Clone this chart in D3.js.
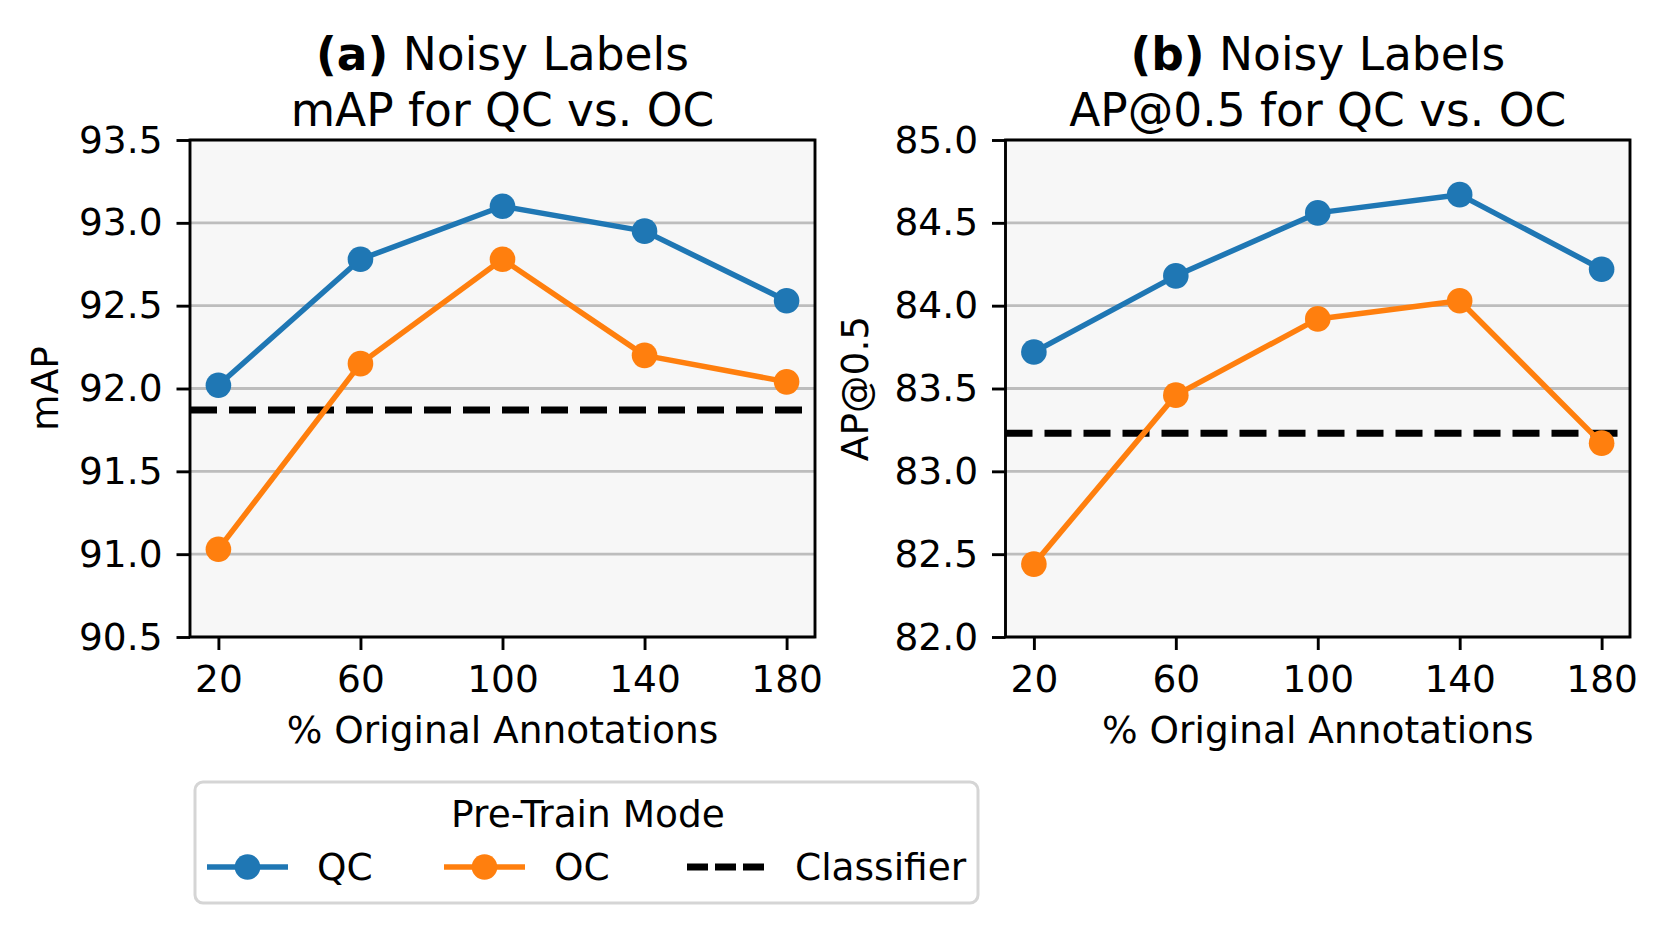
<!DOCTYPE html>
<html>
<head>
<meta charset="utf-8">
<script src="https://cdn.jsdelivr.net/npm/d3@7"></script>
<style>
  body { margin: 0; background: #fff; }
  text { font-family: "DejaVu Sans", sans-serif; fill: #000; }
</style>
</head>
<body>
<svg id="chart" width="1662" height="931"></svg>
<script>
// data
var percents = [20, 60, 100, 140, 180];
var xTickValues = [20, 60, 100, 140, 180];

var mapQC = [92.02, 92.78, 93.10, 92.95, 92.53];
var mapOC = [91.03, 92.15, 92.78, 92.20, 92.04];
var mapClassifier = 91.87;
var mapTicks = [90.5, 91.0, 91.5, 92.0, 92.5, 93.0, 93.5];

var apQC = [83.72, 84.18, 84.56, 84.67, 84.22];
var apOC = [82.44, 83.46, 83.92, 84.03, 83.17];
var apClassifier = 83.23;
var apTicks = [82.0, 82.5, 83.0, 83.5, 84.0, 84.5, 85.0];

var seriesNames = ["QC", "OC", "Classifier"];
var colorQC = "#1f77b4";
var colorOC = "#ff7f0e";

var panels = [
  {tag: "(a)", title2: "mAP for QC vs. OC", ylabel: "mAP", qc: mapQC, oc: mapOC,
   base: mapClassifier, ticks: mapTicks, left: 190, right: 815, ylabelX: 58},
  {tag: "(b)", title2: "AP@0.5 for QC vs. OC", ylabel: "AP@0.5", qc: apQC, oc: apOC,
   base: apClassifier, ticks: apTicks, left: 1005.5, right: 1630, ylabelX: 868}
];

var plotTop = 140, plotBottom = 637;
var tickFont = 37.5, titleFont = 45.5;
var lineW = 5.5, markerR = 12.8;

var svg = d3.select("#chart");

panels.forEach(function (p) {
  var xscale = d3.scaleLinear().domain([12, 188]).range([p.left, p.right]);
  var yscale = d3.scaleLinear().domain([p.ticks[0], p.ticks[p.ticks.length - 1]]).range([plotBottom, plotTop]);

  var g = svg.append("g");

  // background
  g.append("rect")
    .attr("x", p.left).attr("y", plotTop)
    .attr("width", p.right - p.left).attr("height", plotBottom - plotTop)
    .attr("fill", "#f7f7f7");

  // horizontal grid
  g.selectAll("line.grid").data(p.ticks).enter().append("line")
    .attr("class", "grid")
    .attr("x1", p.left).attr("x2", p.right)
    .attr("y1", function (d) { return yscale(d); })
    .attr("y2", function (d) { return yscale(d); })
    .attr("stroke", "#bdbdbd").attr("stroke-width", 2.9);

  // classifier baseline
  g.append("line")
    .attr("x1", p.left).attr("x2", p.right)
    .attr("y1", yscale(p.base)).attr("y2", yscale(p.base))
    .attr("stroke", "#000").attr("stroke-width", 7)
    .attr("stroke-dasharray", "27,12");

  var line = d3.line()
    .x(function (d, i) { return xscale(percents[i]); })
    .y(function (d) { return yscale(d); });

  [[p.qc, colorQC], [p.oc, colorOC]].forEach(function (s) {
    g.append("path")
      .attr("d", line(s[0]))
      .attr("fill", "none")
      .attr("stroke", s[1])
      .attr("stroke-width", lineW)
      .attr("stroke-linejoin", "round");
    g.selectAll(null).data(s[0]).enter().append("circle")
      .attr("cx", function (d, i) { return xscale(percents[i]); })
      .attr("cy", function (d) { return yscale(d); })
      .attr("r", markerR)
      .attr("fill", s[1]);
  });

  // axes
  var yaxis = d3.axisLeft(yscale).tickValues(p.ticks)
    .tickFormat(d3.format(".1f")).tickSize(13.5).tickSizeOuter(0).tickPadding(14);
  var ag = g.append("g").attr("transform", "translate(" + p.left + ",0)").call(yaxis);
  ag.select(".domain").remove();
  ag.selectAll(".tick line").attr("stroke", "#000").attr("stroke-width", 2.9);
  ag.selectAll(".tick text").attr("font-size", tickFont).style("font-family", "DejaVu Sans");

  var xaxis = d3.axisBottom(xscale).tickValues(xTickValues)
    .tickSize(13).tickSizeOuter(0).tickPadding(15);
  var bg = g.append("g").attr("transform", "translate(0," + plotBottom + ")").call(xaxis);
  bg.select(".domain").remove();
  bg.selectAll(".tick line").attr("stroke", "#000").attr("stroke-width", 2.9);
  bg.selectAll(".tick text").attr("font-size", tickFont).style("font-family", "DejaVu Sans");

  // spines
  g.append("rect")
    .attr("x", p.left).attr("y", plotTop)
    .attr("width", p.right - p.left).attr("height", plotBottom - plotTop)
    .attr("fill", "none").attr("stroke", "#000").attr("stroke-width", 2.9);

  var cx = (p.left + p.right) / 2;

  // titles
  var t1 = g.append("text").attr("x", cx).attr("y", 70)
    .attr("text-anchor", "middle").attr("font-size", titleFont);
  t1.append("tspan").attr("font-weight", "bold").text(p.tag);
  t1.append("tspan").text(" Noisy Labels");
  g.append("text").attr("x", cx).attr("y", 126)
    .attr("text-anchor", "middle").attr("font-size", titleFont)
    .text(p.title2);

  // axis labels
  g.append("text").attr("x", cx).attr("y", 743)
    .attr("text-anchor", "middle").attr("font-size", tickFont)
    .text("% Original Annotations");
  g.append("text")
    .attr("transform", "translate(" + p.ylabelX + "," + ((plotTop + plotBottom) / 2) + ") rotate(-90)")
    .attr("text-anchor", "middle").attr("font-size", tickFont)
    .text(p.ylabel);
});

// legend
var lg = svg.append("g");
lg.append("rect")
  .attr("x", 195).attr("y", 782).attr("width", 783).attr("height", 121)
  .attr("rx", 8).attr("ry", 8)
  .attr("fill", "#fff").attr("fill-opacity", 0.8)
  .attr("stroke", "#d5d5d5").attr("stroke-width", 3);
lg.append("text").attr("x", 588).attr("y", 827)
  .attr("text-anchor", "middle").attr("font-size", tickFont)
  .text("Pre-Train Mode");

var legendItems = [
  {name: seriesNames[0], color: colorQC, x: 207, dashed: false, textX: 317},
  {name: seriesNames[1], color: colorOC, x: 444, dashed: false, textX: 554},
  {name: seriesNames[2], color: "#000", x: 687, dashed: true, textX: 795}
];
var legendY = 867;
legendItems.forEach(function (it) {
  var ln = lg.append("line")
    .attr("y1", legendY).attr("y2", legendY)
    .attr("stroke", it.color);
  if (it.dashed) {
    ln.attr("x1", it.x).attr("x2", it.x + 77)
      .attr("stroke-width", 7).attr("stroke-dasharray", "21,7");
  } else {
    ln.attr("x1", it.x).attr("x2", it.x + 81).attr("stroke-width", lineW);
    lg.append("circle").attr("cx", it.x + 40.5).attr("cy", legendY)
      .attr("r", markerR).attr("fill", it.color);
  }
  lg.append("text").attr("x", it.textX).attr("y", legendY + 13)
    .attr("font-size", tickFont).text(it.name);
});
</script>
</body>
</html>
